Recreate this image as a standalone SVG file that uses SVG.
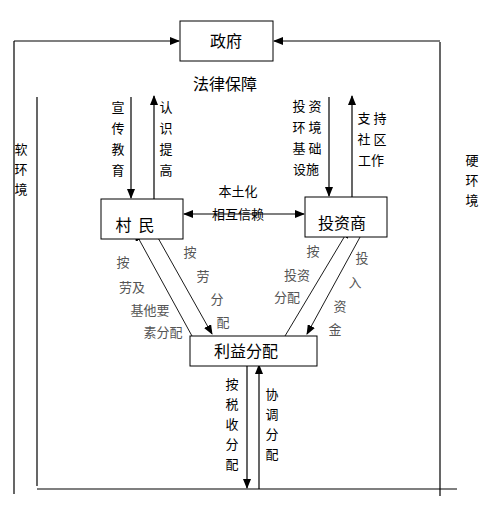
<svg xmlns="http://www.w3.org/2000/svg" width="501" height="519" viewBox="0 0 501 519">
<style>
.box{fill:#fff;stroke:#000;stroke-width:1}
.ln{stroke:#000;stroke-width:1.2;fill:none}
.dg{stroke:#000;stroke-width:0.9;fill:none}
.t{font-family:"Noto Sans CJK SC","Noto Sans CJK JP",sans-serif;fill:#000;text-anchor:middle}
.n{font-size:16px}
.s{font-size:13px}
.g{font-size:13px;fill:#555}
</style>
<defs>
<marker id="ah" markerWidth="10" markerHeight="8" refX="9" refY="4" orient="auto" markerUnits="userSpaceOnUse">
<path d="M0,0 L10,4 L0,8 Z" fill="#000"/>
</marker>
</defs>
<rect width="501" height="519" fill="#fff"/>
<g id="frame">
<line class="ln" x1="14" y1="41" x2="14" y2="494"/>
<line class="ln" x1="440" y1="42" x2="440" y2="496"/>
<line class="ln" x1="37" y1="97" x2="37" y2="486"/>
<line class="ln" x1="37" y1="489" x2="457" y2="489"/>
</g>
<g id="connectors">
<line class="ln" x1="14" y1="41" x2="179" y2="41" marker-end="url(#ah)"/>
<line class="ln" x1="440" y1="41" x2="274" y2="41" marker-end="url(#ah)"/>
<line class="ln" x1="131" y1="97" x2="131" y2="198" marker-end="url(#ah)"/>
<line class="ln" x1="154" y1="199" x2="154" y2="96" marker-end="url(#ah)"/>
<line class="ln" x1="329" y1="97" x2="329" y2="196" marker-end="url(#ah)"/>
<line class="ln" x1="352" y1="197" x2="352" y2="96" marker-end="url(#ah)"/>
<line class="ln" x1="244" y1="214" x2="184" y2="214" marker-end="url(#ah)"/>
<line class="ln" x1="244" y1="214" x2="304" y2="214" marker-end="url(#ah)"/>
<line class="dg" x1="153" y1="229" x2="212" y2="334" marker-end="url(#ah)"/>
<line class="dg" x1="192" y1="336" x2="135" y2="232" marker-end="url(#ah)"/>
<line class="dg" x1="365" y1="228" x2="307" y2="334" marker-end="url(#ah)"/>
<line class="dg" x1="285" y1="336" x2="349" y2="229" marker-end="url(#ah)"/>
<line class="ln" x1="247" y1="366" x2="247" y2="488" marker-end="url(#ah)"/>
<line class="ln" x1="259" y1="489" x2="259" y2="365" marker-end="url(#ah)"/>
</g>
<g id="gov">
<rect class="box" x="180" y="21" width="93" height="40"/>
<text class="t n" x="226" y="47">政府</text>
</g>
<g id="villager">
<rect class="box" x="101" y="199" width="82" height="40"/>
<text class="t n" x="135" y="231" xml:space="preserve">村  民</text>
</g>
<g id="investor">
<rect class="box" x="305" y="197" width="82" height="40"/>
<text class="t n" x="342" y="229">投资商</text>
</g>
<g id="benefit">
<rect class="box" x="190" y="336" width="127" height="30"/>
<text class="t n" x="246" y="357">利益分配</text>
</g>
<g id="labels">
<text class="t n" x="225" y="90" font-size="15">法律保障</text>
<text class="t s" x="21" y="154" font-size="14">软</text>
<text class="t s" x="21" y="174" font-size="14">环</text>
<text class="t s" x="21" y="194" font-size="14">境</text>
<text class="t s" x="472" y="165" font-size="14">硬</text>
<text class="t s" x="472" y="185" font-size="14">环</text>
<text class="t s" x="472" y="205" font-size="14">境</text>
<text class="t s" x="118" y="112">宣</text>
<text class="t s" x="118" y="133">传</text>
<text class="t s" x="118" y="154">教</text>
<text class="t s" x="118" y="175">育</text>
<text class="t s" x="166" y="112">认</text>
<text class="t s" x="166" y="133">识</text>
<text class="t s" x="166" y="154">提</text>
<text class="t s" x="166" y="175">高</text>
<text class="t s" x="307" y="111" xml:space="preserve">投 资</text>
<text class="t s" x="307" y="132" xml:space="preserve">环 境</text>
<text class="t s" x="307" y="153" xml:space="preserve">基 础</text>
<text class="t s" x="306" y="174">设施</text>
<text class="t s" x="372" y="123" xml:space="preserve">支 持</text>
<text class="t s" x="372" y="144" xml:space="preserve">社 区</text>
<text class="t s" x="371" y="165">工作</text>
<text class="t s" x="238" y="196">本土化</text>
<text class="t s" x="238" y="219">相互信赖</text>
<text class="t g" x="123" y="267">按</text>
<text class="t g" x="132" y="292">劳及</text>
<text class="t g" x="150" y="315">基他要</text>
<text class="t g" x="163" y="337">素分配</text>
<text class="t g" x="190" y="257">按</text>
<text class="t g" x="203" y="281">劳</text>
<text class="t g" x="217" y="304">分</text>
<text class="t g" x="223" y="327">配</text>
<text class="t g" x="313" y="256">按</text>
<text class="t g" x="297" y="280">投资</text>
<text class="t g" x="287" y="302">分配</text>
<text class="t g" x="362" y="263">投</text>
<text class="t g" x="355" y="287">入</text>
<text class="t g" x="340" y="311">资</text>
<text class="t g" x="335" y="334">金</text>
<text class="t s" x="232" y="389">按</text>
<text class="t s" x="232" y="409">税</text>
<text class="t s" x="232" y="429">收</text>
<text class="t s" x="232" y="449">分</text>
<text class="t s" x="232" y="469">配</text>
<text class="t s" x="272" y="399">协</text>
<text class="t s" x="272" y="419">调</text>
<text class="t s" x="272" y="439">分</text>
<text class="t s" x="272" y="459">配</text>
</g>
</svg>
